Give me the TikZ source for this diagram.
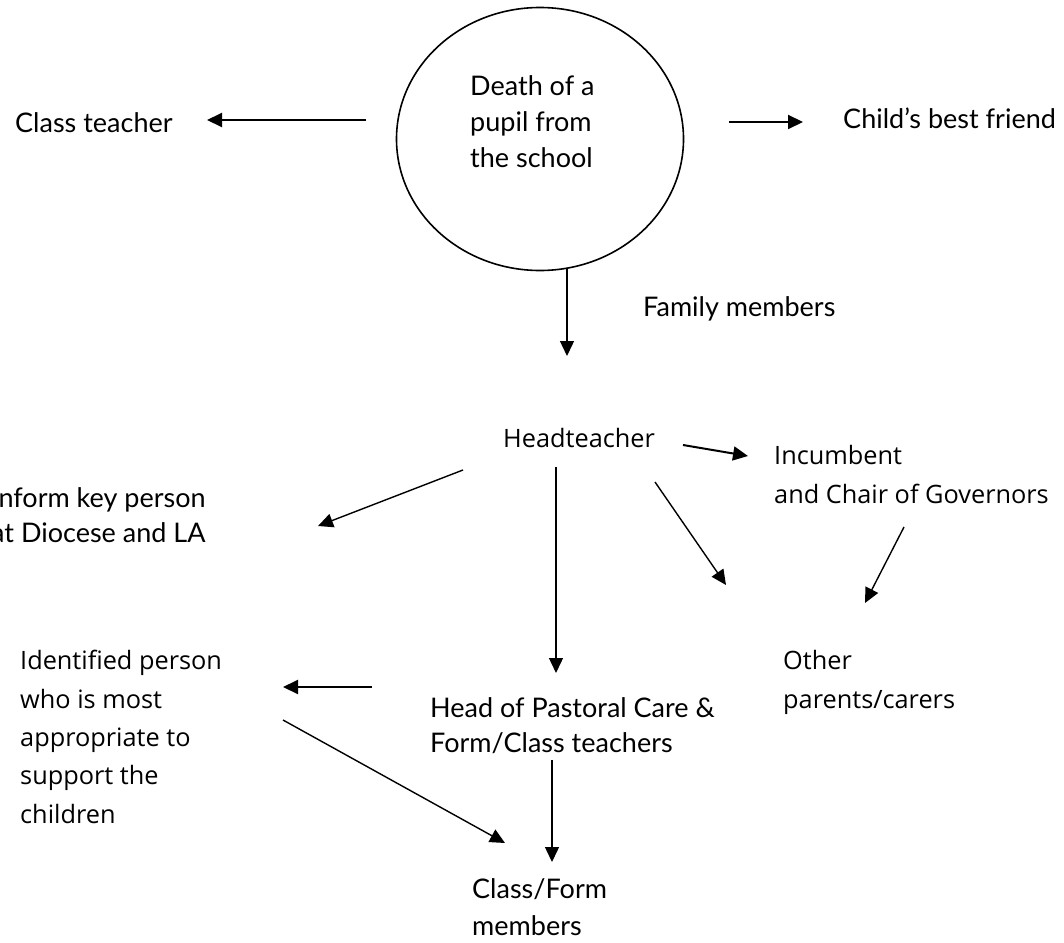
\documentclass[tikz,border=0pt]{standalone}
\usepackage{fontspec}
\setmainfont{Lato}
\newfontfamily\osans{Open Sans}
\usetikzlibrary{arrows.meta,shapes.geometric}

\begin{document}
\begin{tikzpicture}[x=1pt,y=-1pt,
  % multi-line nodes sit on the baseline of their last line
  gill/.style={inner sep=0pt, anchor=base west, align=left,
    font=\fontsize{27}{36}\selectfont},
  open/.style={inner sep=0pt, anchor=base west, align=left,
    font=\osans\fontsize{25.3}{38.3}\selectfont},
  arr/.style={-{Triangle[length=15pt,width=14pt]}, line width=1.4pt},
  thick arr/.style={arr, line width=2pt}]

\useasboundingbox (0,0) rectangle (1064,942);

% central event
\node[draw, ellipse, line width=1.6pt, inner sep=0pt,
      minimum width=287pt, minimum height=263pt] (event) at (540,139) {};
\node[gill] (eventtxt) at (470,167) {Death of a\\pupil from\\the school};

% people informed
\node[gill] (classteacher) at (15,132) {Class teacher};
\node[gill] (friend) at (843,128) {Child’s best friend};
\node[gill] (family) at (643,316) {Family members};
\node[open] (head) at (503,447) {Headteacher};
\node[open] (incumbent) at (774,503) {Incumbent\\and Chair of Governors};
\node[gill, font=\fontsize{27}{35}\selectfont] (diocese) at (-9,542) {Inform key person\\at Diocese and LA};
\node[open] (identified) at (20,823) {Identified person\\who is most\\appropriate to\\support the\\children};
\node[gill, font=\fontsize{27}{35}\selectfont] (pastoral) at (430,752) {Head of Pastoral Care \&\\Form/Class teachers};
\node[open] (parents) at (783,708) {Other\\parents/carers};
\node[gill, font=\fontsize{27}{37}\selectfont] (members) at (472,935) {Class/Form\\members};

% connector end points
\coordinate (ct1) at (366,120);  \coordinate (ct2) at (207,120);
\coordinate (bf1) at (729,122);  \coordinate (bf2) at (803,122);
\coordinate (fm1) at (567,268);  \coordinate (fm2) at (567,356);
\coordinate (di1) at (463,470);  \coordinate (di2) at (318,526);
\coordinate (in1) at (683,445);  \coordinate (in2) at (748,456);
\coordinate (hp1) at (556,467);  \coordinate (hp2) at (556,673);
\coordinate (op1) at (655,482);  \coordinate (op2) at (726,585);
\coordinate (ip1) at (904,527);  \coordinate (ip2) at (865,603);
\coordinate (id1) at (372,687);  \coordinate (id2) at (283,687);
\coordinate (im1) at (283,720);  \coordinate (im2) at (505,843);
\coordinate (pm1) at (552,760);  \coordinate (pm2) at (552,862);

\draw[thick arr] (ct1) -- (ct2);
\draw[thick arr] (bf1) -- (bf2);
\draw[arr] (fm1) -- (fm2);
\draw[arr] (di1) -- (di2);
\draw[thick arr] (in1) -- (in2);
\draw[arr] (hp1) -- (hp2);
\draw[arr] (op1) -- (op2);
\draw[arr] (ip1) -- (ip2);
\draw[thick arr] (id1) -- (id2);
\draw[arr] (im1) -- (im2);
\draw[arr] (pm1) -- (pm2);
\end{tikzpicture}
\end{document}
